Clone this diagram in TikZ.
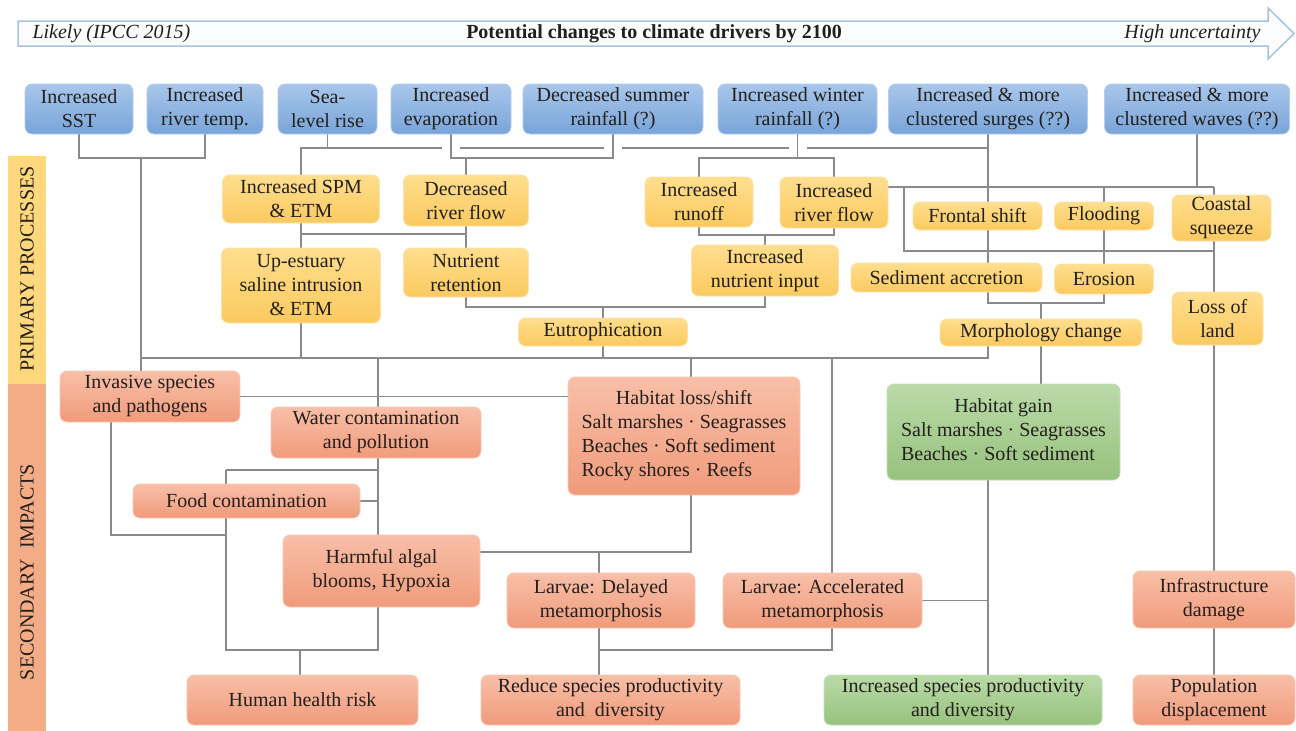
\documentclass[tikz,border=0pt]{standalone}
\usepackage{fontspec}
\setmainfont{Liberation Serif}
\usetikzlibrary{calc}
\pgfdeclarelayer{background}
\pgfsetlayers{background,main}
\definecolor{bluetop}{HTML}{A9C6EA}
\definecolor{bluebot}{HTML}{78A4D9}
\definecolor{yeltop}{HTML}{FFDE8E}
\definecolor{yelbot}{HTML}{FACA60}
\definecolor{saltop}{HTML}{F8BFA8}
\definecolor{salbot}{HTML}{F09B7B}
\definecolor{grntop}{HTML}{BADAA8}
\definecolor{grnbot}{HTML}{97C27E}
\definecolor{linec}{HTML}{8A8A8A}
\definecolor{txt}{HTML}{231F1C}
\definecolor{arrowc}{HTML}{A9C3DD}
\definecolor{arrowfill}{HTML}{FBFCFE}
\definecolor{sideyel}{HTML}{FFD77C}
\definecolor{sidesal}{HTML}{F4AC86}
\begin{document}
\begin{tikzpicture}[x=1pt,y=-1pt,
  every node/.style={font=\fontsize{20}{24}\selectfont, text=txt},
  sz/.style 2 args={minimum width=#1pt, minimum height=#2pt},
  box/.style={rounded corners=7pt, inner sep=0pt, align=center, line width=0.8pt},
  bluebox/.style={box, top color=bluetop, bottom color=bluebot, draw=bluebot!55!white},
  yelbox/.style={box, top color=yeltop, bottom color=yelbot, draw=yelbot!55!white},
  salbox/.style={box, top color=saltop, bottom color=salbot, draw=salbot!55!white},
  grnbox/.style={box, top color=grntop, bottom color=grnbot, draw=grnbot!55!white},
  conn/.style={draw=linec, line width=1.3pt}]
\useasboundingbox (0,0) rectangle (1296,731);
\begin{pgfonlayer}{background}
\fill[white] (0,0) rectangle (1296,731);
\end{pgfonlayer}

% top arrow
\draw[draw=arrowc, line width=1.5pt, fill=arrowfill, line join=miter]
  (18,21) -- (1268,21) -- (1268,8) -- (1294,33.5) -- (1268,59) -- (1268,46) -- (18,46) -- cycle;
\node[font=\fontsize{20}{24}\selectfont\itshape, anchor=west] (likely) at (29,34) {Likely (IPCC 2015)};
\node[font=\fontsize{20}{24}\selectfont\bfseries] (title) at (654,34) {Potential changes to climate drivers by 2100};
\node[font=\fontsize{20}{24}\selectfont\itshape, anchor=east] (high) at (1264,34) {High uncertainty};

% side bars
\fill[sideyel] (8,156) rectangle (46,384);
\fill[sidesal] (8,384) rectangle (46,731);
\node[rotate=90] (prim) at (27,269) {PRIMARY PROCESSES};
\node[rotate=90] (sec) at (27,572) {SECONDARY\ \ IMPACTS};

% climate drivers
\node[bluebox, sz={108}{50}] (sst) at (79,109) {Increased\\SST};
\node[bluebox, sz={116}{50}] (rt) at (205,109) {Increased\\river temp.};
\node[bluebox, sz={99}{50}] (slr) at (327.5,109) {Sea-\\level rise};
\node[bluebox, sz={120}{50}] (evap) at (451,109) {Increased\\evaporation};
\node[bluebox, sz={180}{50}] (dsr) at (613,109) {Decreased summer\\rainfall (?)};
\node[bluebox, sz={159}{50}] (iwr) at (797.5,109) {Increased winter\\rainfall (?)};
\node[bluebox, sz={199}{50}] (surge) at (988,109) {Increased \& more\\clustered surges (??)};
\node[bluebox, sz={185}{50}] (wave) at (1197,109) {Increased \& more\\clustered waves (??)};

% primary processes
\node[yelbox, sz={157}{48}] (spm) at (301,199) {Increased SPM\\\& ETM};
\node[yelbox, sz={125}{51}] (drf) at (466,200.5) {Decreased\\river flow};
\node[yelbox, sz={108}{50}] (runoff) at (699,202) {Increased\\runoff};
\node[yelbox, sz={108}{51}] (irf) at (834,202.5) {Increased\\river flow};
\node[yelbox, sz={129}{28}] (front) at (977.5,216) {Frontal shift};
\node[yelbox, sz={99}{28}] (flood) at (1104,216) {Flooding};
\node[yelbox, sz={99}{46}] (coast) at (1221.5,218) {Coastal\\squeeze};
\node[yelbox, sz={159}{75}] (upest) at (301,285.5) {Up-estuary\\saline intrusion\\\& ETM};
\node[yelbox, sz={125}{49}] (nret) at (466,272.5) {Nutrient\\retention};
\node[yelbox, sz={147}{51}] (nin) at (765,270.5) {Increased\\nutrient input};
\node[yelbox, sz={191}{29}] (sed) at (946.5,277.5) {Sediment accretion};
\node[yelbox, sz={99}{30}] (eros) at (1104,279) {Erosion};
\node[yelbox, sz={91}{53}] (loss) at (1217.5,318.5) {Loss of\\land};
\node[yelbox, sz={169}{28}] (eutro) at (603,332) {Eutrophication};
\node[yelbox, sz={202}{27}] (morph) at (1041,332.5) {Morphology change};

% secondary impacts
\node[salbox, sz={180}{51}] (inv) at (150,396.5) {Invasive species\\and pathogens};
\node[salbox, sz={210}{51}] (water) at (376,432.5) {Water contamination\\and pollution};
\node[salbox, sz={232}{118}] (hab) at (684,436) {\begin{tabular}{@{}l@{}}\multicolumn{1}{@{}c@{}}{Habitat loss/shift}\\Salt marshes · Seagrasses\\Beaches · Soft sediment\\Rocky shores · Reefs\end{tabular}};
\node[grnbox, sz={233}{96}] (hgain) at (1003.5,432) {\begin{tabular}{@{}l@{}}\multicolumn{1}{@{}c@{}}{Habitat gain}\\Salt marshes · Seagrasses\\Beaches · Soft sediment\end{tabular}};
\node[salbox, sz={227}{34}] (food) at (246.5,501) {Food contamination};
\node[salbox, sz={197}{72}] (hab2) at (381.5,571) {Harmful algal\\blooms, Hypoxia};
\node[salbox, sz={188}{55}] (ldel) at (601,600.5) {Larvae: Delayed\\metamorphosis};
\node[salbox, sz={199}{55}] (lacc) at (822.5,600.5) {Larvae: Accelerated\\metamorphosis};
\node[salbox, sz={162}{57}] (infra) at (1214,599.5) {Infrastructure\\damage};
\node[salbox, sz={231}{50}] (human) at (302.5,700) {Human health risk};
\node[salbox, sz={259}{50}] (reduce) at (610.5,700) {Reduce species productivity\\and~~diversity};
\node[grnbox, sz={278}{50}] (incsp) at (963,700) {Increased species productivity\\and diversity};
\node[salbox, sz={162}{50}] (pop) at (1214,700) {Population\\displacement};

% junctions
\coordinate (j1) at (141,158);
\coordinate (j2) at (301,148);
\coordinate (j3) at (466,158);
\coordinate (j4) at (797.5,158);
\coordinate (j5) at (1214,187);
\coordinate (j6) at (904,187);
\coordinate (j7) at (904,251);
\coordinate (j8) at (1214,251);
\coordinate (j9) at (301,234);
\coordinate (j10) at (765,235);
\coordinate (j11) at (603,307);
\coordinate (j12) at (1041,303);
\coordinate (j13) at (141,358);
\coordinate (j14) at (378,358);
\coordinate (j15) at (691,358);
\coordinate (j16) at (832,358);
\coordinate (j17) at (111,535);
\coordinate (j18) at (226,535);
\coordinate (j19) at (226,470);
\coordinate (j20) at (378,470);
\coordinate (j21) at (226,650);
\coordinate (j22) at (378,650);
\coordinate (j23) at (300,650);
\coordinate (j24) at (691,552);
\coordinate (j25) at (599,552);
\coordinate (j26) at (599,650);
\coordinate (j27) at (832,650);

\begin{pgfonlayer}{background}
% drivers
\draw[conn] (sst.south) |- (j1) -| (rt.south);
\draw[conn] (j1) -- (j1 |- inv.north);
\draw[conn] (slr.south) |- (j2) -- (spm.north);
\draw[conn] (j2) -- ($(evap.south |- j2)+(-9,0)$);
\draw[conn] ($(evap.south |- j2)+(9,0)$) -- ($(dsr.south |- j2)+(-9,0)$);
\draw[conn] ($(dsr.south |- j2)+(9,0)$) -- ($(iwr.south |- j2)+(-9,0)$);
\draw[conn] ($(iwr.south |- j2)+(9,0)$) -- (surge.south |- j2);
\draw[conn] (evap.south) |- (j3) -| (dsr.south);
\draw[conn] (j3) -- (drf.north);
\draw[conn] (iwr.south) -- (j4);
\draw[conn] (runoff.north) |- (j4) -| (irf.north);
\draw[conn] (surge.south) -- (surge.south |- sed.north);
\draw[conn] (irf.east |- j5) -- (j5);
\draw[conn] (wave.south) -- (wave.south |- j5);
\draw[conn] (j6) -- (j7) -- (j8);
\draw[conn] (j5) -- (j5 |- loss.north);
\draw[conn] (flood.north |- j5) -- (eros.north);
% primary
\draw[conn] (spm.south) -- (upest.north);
\draw[conn] (drf.south) -- (nret.north);
\draw[conn] (j9) -- (drf.south |- j9);
\draw[conn] (runoff.south) |- (j10) -| (irf.south);
\draw[conn] (j10) -- (nin.north);
\draw[conn] (nret.south) |- (j11) -| (nin.south);
\draw[conn] (j11) -- (eutro.north);
\draw[conn] (sed.south -| surge.south) |- (j12) -| (eros.south);
\draw[conn] (j12) -- (morph.north);
\draw[conn] (morph.south) -- (hgain.north -| morph.south);
\draw[conn] (j13) -| (morph.south -| surge.south);
\draw[conn] (upest.south) -- (upest.south |- j13);
\draw[conn] (eutro.south) -- (eutro.south |- j13);
\draw[conn] (j14) -- (j14 |- water.north);
\draw[conn] (j15) -- (j15 |- hab.north);
\draw[conn] (j16) -- (j16 |- lacc.north);
% secondary
\draw[conn] (inv.east) -- (inv.east -| hab.west);
\draw[conn] (loss.south -| j5) -- (infra.north);
\draw[conn] (infra.south) -- (pop.north);
\draw[conn] (j17 |- inv.south) -- (j17) -- (j18);
\draw[conn] (j14 |- water.south) -- (j14 |- hab2.north);
\draw[conn] (j19) -- (j20);
\draw[conn] (j19) -- (j19 |- food.north);
\draw[conn] (food.east) -- (food.east -| j14);
\draw[conn] (j19 |- food.south) -- (j21) -- (j22) -- (j22 |- hab2.south);
\draw[conn] (j23) -- (j23 |- human.north);
\draw[conn] (j15 |- hab.south) -- (j24) -- (j24 -| hab2.east);
\draw[conn] (j25) -- (j25 |- ldel.north);
\draw[conn] (j25 |- ldel.south) -- (j25 |- reduce.north);
\draw[conn] (j16 |- lacc.south) -- (j27) -- (j26);
\draw[conn] (hgain.south -| surge.south) -- (incsp.north -| surge.south);
\draw[conn] (lacc.east) -- (lacc.east -| surge.south);
\end{pgfonlayer}
\end{tikzpicture}
\end{document}
